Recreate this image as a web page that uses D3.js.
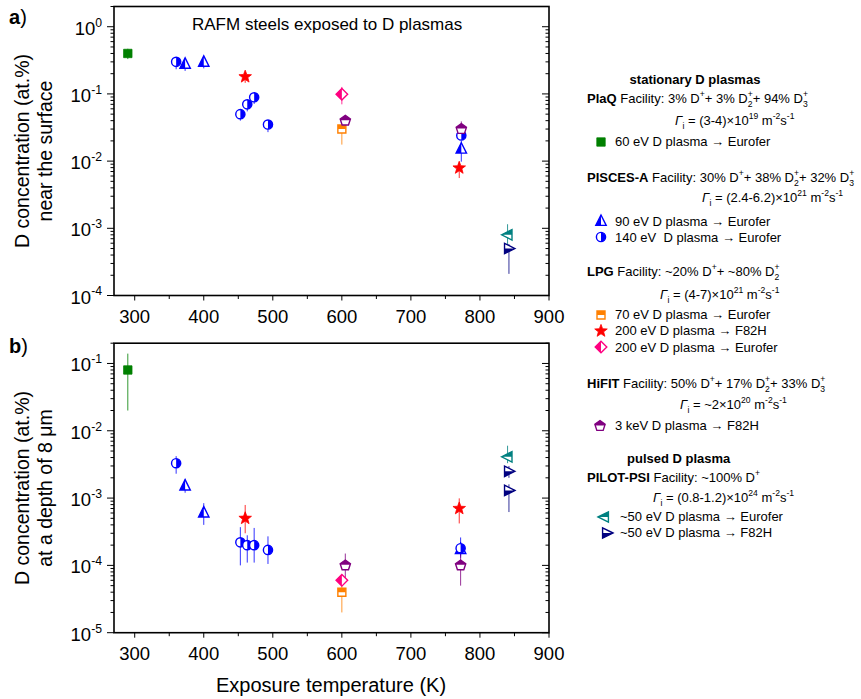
<!DOCTYPE html>
<html>
<head>
<meta charset="utf-8">
<script src="https://cdn.jsdelivr.net/npm/d3@7"></script>
<style>
  body { margin: 0; background: #fff; }
  svg { display: block; font-family: Arial, "Liberation Sans", sans-serif; }
  text { white-space: pre; }
</style>
</head>
<body>
<svg id="chart" width="861" height="699"></svg>
<script>
// ---- data: [temperature K, D concentration at.%, error low, error high] ----
// near-surface concentrations
const plaqSurface      = [[290, 0.40, 0.33, 0.47]];
const pisces90Surface  = [[373, 0.28, 0.22, 0.30], [400, 0.30, 0.24, 0.33], [773, 0.0153, 0.0098, 0.020]];
const pisces140Surface = [[360, 0.30, 0.233, 0.34], [453, 0.050, 0.040, 0.057], [463, 0.070, 0.055, 0.080],
                          [473, 0.089, 0.071, 0.100], [493, 0.035, 0.027, 0.040], [773, 0.024, 0.021, 0.028]];
const lpg70Surface     = [[600, 0.030, 0.0176, 0.034]];
const lpg200fSurface   = [[460, 0.18, 0.146, 0.21], [770, 0.0079, 0.0056, 0.0099]];
const lpg200eSurface   = [[600, 0.099, 0.070, 0.127]];
const hifitSurface     = [[605, 0.040, 0.033, 0.047], [773, 0.030, 0.025, 0.039]];
const pilotESurface    = [[840, 8.0e-4, 5.5e-4, 1.15e-3]];
const pilotFSurface    = [[842, 5.0e-4, 2.1e-4, 5.8e-4]];

// concentrations at a depth of 8 µm
const plaqDepth      = [[290, 0.08, 0.02, 0.14]];
const pisces90Depth  = [[373, 1.53e-3, 1.2e-3, 1.9e-3], [400, 6.1e-4, 4.0e-4, 8.4e-4], [772, 1.75e-4, 1.4e-4, 2.2e-4]];
const pisces140Depth = [[360, 3.3e-3, 2.3e-3, 4.2e-3], [453, 2.2e-4, 1.0e-4, 3.7e-4], [463, 2.0e-4, 1.1e-4, 2.8e-4],
                        [473, 2.0e-4, 1.1e-4, 3.6e-4], [493, 1.7e-4, 1.05e-4, 2.7e-4], [772, 1.8e-4, 1.3e-4, 2.6e-4]];
const lpg70Depth     = [[600, 4.0e-5, 2.0e-5, 6.5e-5]];
const lpg200fDepth   = [[460, 5.0e-4, 3.0e-4, 7.9e-4], [770, 7.0e-4, 4.2e-4, 9.9e-4]];
const lpg200eDepth   = [[600, 6.0e-5, 5.2e-5, 7.0e-5]];
const hifitDepth     = [[605, 1.0e-4, 6.5e-5, 1.5e-4], [772, 1.0e-4, 5.0e-5, 1.55e-4]];
const pilotEDepth    = [[840, 4.1e-3, 3.3e-3, 6.0e-3]];
const pilotFDepth    = [[842, 2.5e-3, 2.0e-3, 3.0e-3], [842, 1.3e-3, 6.2e-4, 1.6e-3]];

// axis ticks
const xTicks = [300, 400, 500, 600, 700, 800, 900];
const xMinorTicks = [350, 450, 550, 650, 750, 850];
const topExponents = [0, -1, -2, -3, -4];
const bottomExponents = [-1, -2, -3, -4, -5];

// ---- series appearance ----
const series = [
  { surface: plaqSurface,      depth: plaqDepth,      color: '#008000', shape: 'square',   size: 4.2, fill: 'full' },
  { surface: pisces90Surface,  depth: pisces90Depth,  color: '#0000ff', shape: 'triUp',    size: 5.2, fill: 'left' },
  { surface: pisces140Surface, depth: pisces140Depth, color: '#0000ff', shape: 'circle',   size: 4.6, fill: 'right' },
  { surface: lpg70Surface,     depth: lpg70Depth,     color: '#ff8000', shape: 'square',   size: 4.0, fill: 'top' },
  { surface: lpg200fSurface,   depth: lpg200fDepth,   color: '#ff0000', shape: 'star',     size: 6.6, fill: 'full' },
  { surface: lpg200eSurface,   depth: lpg200eDepth,   color: '#ff0080', shape: 'diamond',  size: 5.8, fill: 'left' },
  { surface: hifitSurface,     depth: hifitDepth,     color: '#800080', shape: 'pentagon', size: 5.4, fill: 'top' },
  { surface: pilotESurface,    depth: pilotEDepth,    color: '#008080', shape: 'triLeft',  size: 5.2, fill: 'top' },
  { surface: pilotFSurface,    depth: pilotFDepth,    color: '#000080', shape: 'triRight', size: 5.2, fill: 'bottom' }
];

const svg = d3.select('#chart');

// half-fill clip regions in bounding-box units
const defs = svg.append('defs');
const halves = { left: [0, 0, 0.5, 1], right: [0.5, 0, 0.5, 1], top: [0, 0, 1, 0.5], bottom: [0, 0.5, 1, 0.5] };
Object.entries(halves).forEach(([k, r]) => {
  defs.append('clipPath').attr('id', 'half-' + k).attr('clipPathUnits', 'objectBoundingBox')
    .append('rect').attr('x', r[0]).attr('y', r[1]).attr('width', r[2]).attr('height', r[3]);
});

function regular(n, r, rot) {
  const pts = d3.range(n).map(i => {
    const a = (rot + i * 360 / n) * Math.PI / 180;
    return [r * Math.cos(a), r * Math.sin(a)];
  });
  return 'M' + pts.map(p => p.join(',')).join('L') + 'Z';
}
function starPath(r) {
  const pts = d3.range(10).map(i => {
    const rr = i % 2 ? r * 0.42 : r;
    const a = (-90 + i * 36) * Math.PI / 180;
    return [rr * Math.cos(a), rr * Math.sin(a)];
  });
  return 'M' + pts.map(p => p.join(',')).join('L') + 'Z';
}
const shapes = {
  square: s => `M${-s},${-s}H${s}V${s}H${-s}Z`,
  circle: s => `M${-s},0A${s},${s} 0 1,0 ${s},0A${s},${s} 0 1,0 ${-s},0Z`,
  triUp: s => `M0,${-s * 1.15}L${s},${s * 0.85}L${-s},${s * 0.85}Z`,
  triLeft: s => `M${-s * 1.15},0L${s * 0.85},${-s}L${s * 0.85},${s}Z`,
  triRight: s => `M${s * 1.15},0L${-s * 0.85},${-s}L${-s * 0.85},${s}Z`,
  diamond: s => `M0,${-s}L${s},0L0,${s}L${-s},0Z`,
  pentagon: s => regular(5, s, -90),
  star: s => starPath(s)
};

function drawMarker(g, cx, cy, st) {
  const p = shapes[st.shape](st.size);
  const m = g.append('g').attr('transform', `translate(${cx},${cy})`);
  if (st.fill === 'full') {
    m.append('path').attr('d', p).attr('fill', st.color).attr('stroke', st.color).attr('stroke-width', 0.8);
  } else {
    m.append('path').attr('d', p).attr('fill', '#fff').attr('stroke', st.color).attr('stroke-width', 1.4);
    m.append('path').attr('d', p).attr('fill', st.color).attr('clip-path', `url(#half-${st.fill})`);
  }
}

// text with ^{sup}, _{sub}, %{stacked sup}, *{bold}, /{italic}
function rich(parent, x, y, str, size, anchor, weight) {
  const t = parent.append('text').attr('x', x).attr('y', y).attr('font-size', size).attr('fill', '#000');
  if (anchor) t.attr('text-anchor', anchor);
  if (weight) t.attr('font-weight', weight);
  const re = /([\^_*\/%])\{([^}]*)\}/g;
  let last = 0, m, off = 0;
  const add = (txt, kind) => {
    if (!txt) return;
    let target = 0;
    const sp = t.append('tspan').text(txt);
    if (kind === '^' || kind === '%') { target = -size * 0.44; sp.attr('font-size', size * 0.66); }
    if (kind === '_') { target = size * 0.3; sp.attr('font-size', size * 0.66); }
    if (kind === '*') sp.attr('font-weight', 'bold');
    if (kind === '/') sp.attr('font-style', 'italic');
    if (kind === '%') sp.attr('dx', -size * 0.37);
    if (target - off !== 0) sp.attr('dy', target - off);
    off = target;
  };
  while ((m = re.exec(str))) { add(str.slice(last, m.index), ''); add(m[2], m[1]); last = re.lastIndex; }
  add(str.slice(last), '');
  return t;
}

// ---- scales ----
const x = d3.scaleLinear().domain([270, 900]).range([114, 549]);
const yTop = d3.scaleLog().domain([1e-4, 2]).range([295.5, 6.5]);
const yBot = d3.scaleLog().domain([1e-5, 0.2]).range([632.7, 343.2]);

const panels = [
  { y: yTop, key: 'surface', exps: topExponents },
  { y: yBot, key: 'depth', exps: bottomExponents }
];

panels.forEach(pn => {
  const y = pn.y;
  const [y0, y1] = y.range();
  const [xl, xr] = x.range();
  const g = svg.append('g');
  const maxV = y.domain()[1];

  // log ticks: outward on the left, inward on the right
  const lo = d3.min(pn.exps), hi = d3.max(pn.exps);
  for (let e = lo; e <= hi; e++) {
    for (let k = 1; k <= 9; k++) {
      const v = k * Math.pow(10, e);
      if (v > maxV * 1.0001) continue;
      const len = k === 1 ? 7 : 3.5;
      const yy = y(v);
      g.append('line').attr('x1', xl - len).attr('x2', xl).attr('y1', yy).attr('y2', yy).attr('stroke', '#000').attr('stroke-width', 1);
      g.append('line').attr('x1', xr - len).attr('x2', xr).attr('y1', yy).attr('y2', yy).attr('stroke', '#000').attr('stroke-width', 1);
    }
  }
  pn.exps.forEach(e => rich(g, 102, y(Math.pow(10, e)) + 8, `10^{${e}}`, 18.5, 'end'));

  // temperature ticks
  xTicks.forEach(t => {
    g.append('line').attr('x1', x(t)).attr('x2', x(t)).attr('y1', y0).attr('y2', y0 + 5).attr('stroke', '#000').attr('stroke-width', 1);
    g.append('text').attr('x', x(t)).attr('y', y0 + 27).attr('text-anchor', 'middle').attr('font-size', 18.5).text(t);
  });
  xMinorTicks.forEach(t => {
    g.append('line').attr('x1', x(t)).attr('x2', x(t)).attr('y1', y0).attr('y2', y0 + 3.5).attr('stroke', '#000').attr('stroke-width', 1);
  });

  // frame
  g.append('rect').attr('x', xl).attr('y', y1).attr('width', xr - xl).attr('height', y0 - y1)
    .attr('fill', 'none').attr('stroke', '#000').attr('stroke-width', 1.6);

  // error bars then markers
  const marks = svg.append('g');
  series.forEach(s => {
    s[pn.key].forEach(d => {
      marks.append('line').attr('x1', x(d[0])).attr('x2', x(d[0])).attr('y1', y(d[2])).attr('y2', y(d[3]))
        .attr('stroke', s.color).attr('stroke-width', 1).attr('opacity', 0.8);
    });
  });
  series.forEach(s => {
    s[pn.key].forEach(d => drawMarker(marks, x(d[0]), y(d[1]), s));
  });
});

// ---- titles ----
svg.append('text').attr('x', 192).attr('y', 30).attr('font-size', 17).text('RAFM steels exposed to D plasmas');
rich(svg, 9, 24, '*{a})', 20);
rich(svg, 9, 353, '*{b})', 20);

function yTitle(cy, line1, line2) {
  svg.append('text').attr('transform', `translate(29,${cy}) rotate(-90)`).attr('text-anchor', 'middle')
    .attr('font-size', 19.5).text(line1);
  svg.append('text').attr('transform', `translate(52,${cy}) rotate(-90)`).attr('text-anchor', 'middle')
    .attr('font-size', 19.5).text(line2);
}
yTitle(151, 'D concentration (at.%)', 'near the surface');
yTitle(488, 'D concentration (at.%)', 'at a depth of 8 \u03bcm');
svg.append('text').attr('x', 331).attr('y', 692).attr('text-anchor', 'middle').attr('font-size', 20)
  .text('Exposure temperature (K)');

// ---- legend ----
const lg = svg.append('g');
const LS = 13;
rich(lg, 695, 84, 'stationary D plasmas', LS, 'middle', 'bold');
rich(lg, 587, 103, '*{PlaQ} Facility: 3% D^{+}+ 3% D_{2}%{+}+ 94% D_{3}%{+}', LS);
rich(lg, 675, 125, '/{\u0393}_{i} = (3-4)\u00d710^{19} m^{-2}s^{-1}', LS);
rich(lg, 587, 182, '*{PISCES-A} Facility: 30% D^{+}+ 38% D_{2}%{+}+ 32% D_{3}%{+}', LS);
rich(lg, 702, 202, '/{\u0393}_{i} = (2.4-6.2)\u00d710^{21} m^{-2}s^{-1}', LS);
rich(lg, 587, 276, '*{LPG} Facility: ~20% D^{+}+ ~80% D_{2}%{+}', LS);
rich(lg, 660, 299, '/{\u0393}_{i} = (4-7)\u00d710^{21} m^{-2}s^{-1}', LS);
rich(lg, 587, 388, '*{HiFIT} Facility: 50% D^{+}+ 17% D_{2}%{+}+ 33% D_{3}%{+}', LS);
rich(lg, 680, 409, '/{\u0393}_{i} = ~2\u00d710^{20} m^{-2}s^{-1}', LS);
rich(lg, 627, 463, 'pulsed D plasma', LS, null, 'bold');
rich(lg, 587, 482, '*{PILOT-PSI} Facility: ~100% D^{+}', LS);
rich(lg, 653, 502, '/{\u0393}_{i} = (0.8-1.2)\u00d710^{24} m^{-2}s^{-1}', LS);

const legendItems = [
  { s: 0, mx: 601, my: 142, tx: 615, ty: 146, label: '60 eV D plasma \u2192 Eurofer' },
  { s: 1, mx: 601, my: 221, tx: 615, ty: 226, label: '90 eV D plasma \u2192 Eurofer' },
  { s: 2, mx: 601, my: 237, tx: 615, ty: 242, label: '140 eV  D plasma \u2192 Eurofer' },
  { s: 3, mx: 601, my: 315, tx: 615, ty: 319, label: '70 eV D plasma \u2192 Eurofer' },
  { s: 4, mx: 601, my: 331, tx: 615, ty: 335, label: '200 eV D plasma \u2192 F82H' },
  { s: 5, mx: 601, my: 347, tx: 615, ty: 352, label: '200 eV D plasma \u2192 Eurofer' },
  { s: 6, mx: 600, my: 426, tx: 615, ty: 430, label: '3 keV D plasma \u2192 F82H' },
  { s: 7, mx: 604, my: 517, tx: 620, ty: 521, label: '~50 eV D plasma \u2192 Eurofer' },
  { s: 8, mx: 607, my: 533, tx: 620, ty: 537, label: '~50 eV D plasma \u2192 F82H' }
];
legendItems.forEach(it => {
  drawMarker(lg, it.mx, it.my, series[it.s]);
  lg.append('text').attr('x', it.tx).attr('y', it.ty).attr('font-size', LS).text(it.label);
});
</script>
</body>
</html>
